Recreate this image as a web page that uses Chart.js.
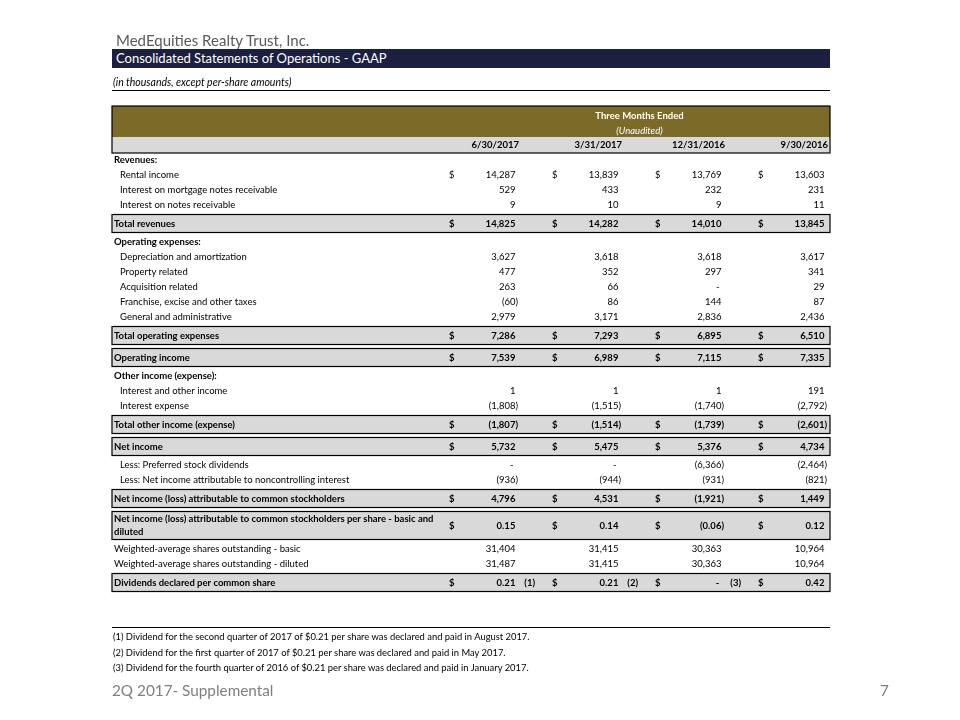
<!DOCTYPE html>
<html>
<head>
<meta charset="utf-8">
<title>MedEquities - Consolidated Statements of Operations</title>
<script src="https://cdn.jsdelivr.net/npm/chart.js@4/dist/chart.umd.min.js"></script>
<style>
    body { margin: 0; background: #fff; font-family: Lato, "Liberation Sans", sans-serif; }
    #page { position: relative; width: 960px; height: 720px; overflow: hidden; }
    #statement { position: absolute; left: 0; top: 0; }
    .txt { position: absolute; white-space: nowrap; }
    #company { left: 116px; top: 31px; line-height: 18px; font-size: 15px; color: #595959; }
    #titleBar { left: 112px; top: 49px; width: 714px; height: 19px; line-height: 19px; padding-left: 4px;
        background: #1b2040; color: #fff; font-size: 13px; }
    #units { left: 113px; top: 76px; line-height: 12px; font-size: 10.5px; font-style: italic; color: #000; }
    .rule { position: absolute; left: 112px; width: 718px; height: 1px; background: #000; }
    .note { left: 113px; line-height: 12px; font-size: 9.4px; color: #000; }
    #footer { left: 112px; top: 680px; line-height: 20px; font-size: 15.3px; color: #7f7f7f; }
    #pageNo { left: 880px; top: 680px; line-height: 20px; font-size: 15.3px; color: #7f7f7f; }
</style>
</head>
<body>
<div id="page">
    <canvas id="statement" width="960" height="720"></canvas>
    <div class="txt" id="company">MedEquities Realty Trust, Inc.</div>
    <div class="txt" id="titleBar">Consolidated Statements of Operations - GAAP</div>
    <div class="txt" id="units">(in thousands, except per-share amounts)</div>
    <div class="rule" style="top: 90px;"></div>
    <div class="rule" style="top: 627px;"></div>
    <div class="txt note" style="top: 631px;">(1) Dividend for the second quarter of 2017 of $0.21 per share was declared and paid in August 2017.</div>
    <div class="txt note" style="top: 647px;">(2) Dividend for the first quarter of 2017 of $0.21 per share was declared and paid in May 2017.</div>
    <div class="txt note" style="top: 662px;">(3) Dividend for the fourth quarter of 2016 of $0.21 per share was declared and paid in January 2017.</div>
    <div class="txt" id="footer">2Q 2017- Supplemental</div>
    <div class="txt" id="pageNo">7</div>
</div>
<script>
// columns
const periods = ['6/30/2017', '3/31/2017', '12/31/2016', '9/30/2016'];

// row labels, kind: section / item / plain / total
const rowLabels = [
    'Revenues:',
    'Rental income',
    'Interest on mortgage notes receivable',
    'Interest on notes receivable',
    'Total revenues',
    'Operating expenses:',
    'Depreciation and amortization',
    'Property related',
    'Acquisition related',
    'Franchise, excise and other taxes',
    'General and administrative',
    'Total operating expenses',
    'Operating income',
    'Other income (expense):',
    'Interest and other income',
    'Interest expense',
    'Total other income (expense)',
    'Net income',
    'Less: Preferred stock dividends',
    'Less: Net income attributable to noncontrolling interest',
    'Net income (loss) attributable to common stockholders',
    'Net income (loss) attributable to common stockholders per share - basic and\ndiluted',
    'Weighted-average shares outstanding - basic',
    'Weighted-average shares outstanding - diluted',
    'Dividends declared per common share'
];
const rowKinds = [
    'section', 'item', 'item', 'item', 'total',
    'section', 'item', 'item', 'item', 'item', 'item', 'total', 'total',
    'section', 'item', 'item', 'total', 'total',
    'item', 'item', 'total', 'total',
    'plain', 'plain', 'total'
];
const dollarRows = [1, 4, 11, 12, 16, 17, 20, 21, 24];
const perShareRows = [21, 24];

// values per period, same order as rowLabels (null = no value)
const q2_2017 = [null, 14287, 529, 9, 14825, null, 3627, 477, 263, -60, 2979, 7286, 7539,
    null, 1, -1808, -1807, 5732, 0, -936, 4796, 0.15, 31404, 31487, 0.21];
const q1_2017 = [null, 13839, 433, 10, 14282, null, 3618, 352, 66, 86, 3171, 7293, 6989,
    null, 1, -1515, -1514, 5475, 0, -944, 4531, 0.14, 31415, 31415, 0.21];
const q4_2016 = [null, 13769, 232, 9, 14010, null, 3618, 297, 0, 144, 2836, 6895, 7115,
    null, 1, -1740, -1739, 5376, -6366, -931, -1921, -0.06, 30363, 30363, 0];
const q3_2016 = [null, 13603, 231, 11, 13845, null, 3617, 341, 29, 87, 2436, 6510, 7335,
    null, 191, -2792, -2601, 4734, -2464, -821, 1449, 0.12, 10964, 10964, 0.42];
const dividendNotes = ['(1)', '(2)', '(3)', ''];

const seriesValues = [q2_2017, q1_2017, q4_2016, q3_2016];

const FONT = 'Lato, "Liberation Sans", sans-serif';
const FONT_SIZE = 9.5;

// row heights (table layout)
function rowHeight(i) {
    if (rowKinds[i] !== 'total') return 15;
    return rowLabels[i].includes('\n') ? 28 : 18;
}
const rowCenters = [];
let tableHeight = 0;
rowLabels.forEach((label, i) => {
    const h = rowHeight(i);
    const gap = rowKinds[i] === 'total' ? 2 : 0;
    tableHeight += gap;
    rowCenters.push(tableHeight + h / 2);
    tableHeight += h + gap;
});

function formatValue(v, decimals) {
    if (v === 0) return '-';
    const s = Math.abs(v).toLocaleString('en-US', {
        minimumFractionDigits: decimals,
        maximumFractionDigits: decimals
    });
    return v < 0 ? '(' + s + ')' : s;
}

const tablePlugin = {
    id: 'statementTable',
    afterDraw(chart) {
        const ctx = chart.ctx;
        const xs = chart.scales.x;
        const ys = chart.scales.y;
        const area = chart.chartArea;
        const left = 112;
        const right = area.right + 2;
        const colW = (xs.right - xs.left) / periods.length;
        const colRight = i => xs.getPixelForValue(i) + colW / 2 - 1;
        const dollarX = i => xs.getPixelForValue(i) - colW / 2 + 33;

        ctx.save();
        ctx.textBaseline = 'middle';

        // header block
        const hTop = area.top - 46.5;
        ctx.fillStyle = '#7c6a29';
        ctx.fillRect(left, hTop, right - left, 31);
        ctx.fillStyle = '#d9d9d9';
        ctx.fillRect(left, hTop + 31, right - left, 16);
        ctx.strokeStyle = '#000';
        ctx.lineWidth = 1.2;
        ctx.strokeRect(left, hTop, right - left, 47);

        const headCenter = (dollarX(0) + right) / 2;
        ctx.fillStyle = '#fff';
        ctx.textAlign = 'center';
        ctx.font = 'bold ' + FONT_SIZE + 'px ' + FONT;
        ctx.fillText('Three Months Ended', headCenter, hTop + 10);
        ctx.font = 'italic ' + FONT_SIZE + 'px ' + FONT;
        ctx.fillText('(Unaudited)', headCenter, hTop + 25);

        ctx.fillStyle = '#000';
        ctx.textAlign = 'right';
        ctx.font = 'bold ' + FONT_SIZE + 'px ' + FONT;
        periods.forEach((p, i) => ctx.fillText(p, colRight(i) + 1, hTop + 39));

        // rows
        rowLabels.forEach((label, r) => {
            const kind = rowKinds[r];
            const yc = ys.getPixelForValue(rowCenters[r]);
            const h = rowHeight(r);
            const bold = kind === 'total' || kind === 'section';
            const weight = bold ? 'bold ' : '';
            ctx.font = weight + FONT_SIZE + 'px ' + FONT;

            if (kind === 'total') {
                ctx.fillStyle = '#d9d9d9';
                ctx.fillRect(left, yc - h / 2, right - left, h);
                ctx.strokeStyle = '#000';
                ctx.lineWidth = 1.2;
                ctx.strokeRect(left, yc - h / 2, right - left, h);
            }

            ctx.fillStyle = '#000';
            ctx.textAlign = 'left';
            const indent = kind === 'item' ? 120 : 114;
            const lines = label.split('\n');
            lines.forEach((line, k) => {
                const ly = yc + (k - (lines.length - 1) / 2) * 13;
                ctx.fillText(line, indent, ly);
            });

            const parenW = ctx.measureText(')').width;
            seriesValues.forEach((vals, c) => {
                const v = vals[r];
                if (v === null) return;
                if (dollarRows.includes(r)) {
                    ctx.textAlign = 'left';
                    ctx.fillText('$', dollarX(c), yc);
                }
                const decimals = perShareRows.includes(r) ? 2 : 0;
                const text = formatValue(v, decimals);
                ctx.textAlign = 'right';
                let xr = colRight(c);
                if (v > 0) xr -= parenW;
                if (v === 0) xr -= parenW + 2;
                ctx.fillText(text, xr, yc);
                if (r === rowLabels.length - 1 && dividendNotes[c]) {
                    ctx.fillText(dividendNotes[c], colRight(c) + 17, yc);
                }
            });
        });
        ctx.restore();
    }
};

new Chart(document.getElementById('statement'), {
    type: 'bar',
    data: {
        labels: periods,
        datasets: []
    },
    options: {
        responsive: false,
        animation: false,
        events: [],
        layout: {
            padding: {
                left: 416,
                right: 132,
                top: 152.5,
                bottom: 720 - 152.5 - tableHeight
            }
        },
        scales: {
            x: { type: 'category', display: false, offset: true },
            y: { type: 'linear', display: false, reverse: true, min: 0, max: tableHeight }
        },
        plugins: {
            legend: { display: false },
            tooltip: { enabled: false }
        }
    },
    plugins: [tablePlugin]
});
</script>
</body>
</html>
